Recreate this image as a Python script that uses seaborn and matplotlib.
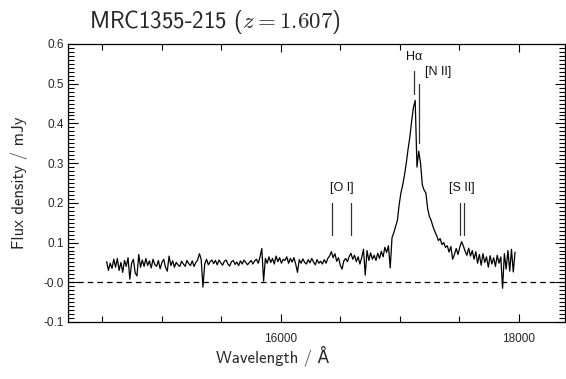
import numpy as np
import pandas as pd
import matplotlib
matplotlib.use("Agg")
import matplotlib.pyplot as plt
import seaborn as sns
from matplotlib.ticker import MultipleLocator

# ---------------- data ----------------
wave_start = 14535.0
wave_step = 15.0
flux = [
    # 14535 - 14820
    0.052, 0.030, 0.048, 0.035, 0.058, 0.038, 0.060, 0.030, 0.050, 0.025,
    0.055, 0.040, 0.062, 0.008, 0.048, 0.058, 0.024, 0.016, 0.070, 0.038,
    # 14835 - 15120
    0.056, 0.040, 0.060, 0.042, 0.054, 0.036, 0.058, 0.045, 0.040, 0.055,
    0.034, 0.050, 0.058, 0.038, 0.028, 0.066, 0.042, 0.054, 0.038, 0.050,
    # 15135 - 15420
    0.044, 0.040, 0.053, 0.046, 0.040, 0.055, 0.047, 0.042, 0.054, 0.040,
    0.050, 0.056, 0.072, 0.058, -0.012, 0.046, 0.058, 0.044, 0.052, 0.056,
    # 15435 - 15720
    0.047, 0.055, 0.044, 0.056, 0.049, 0.043, 0.053, 0.056, 0.046, 0.041,
    0.052, 0.055, 0.045, 0.051, 0.042, 0.054, 0.046, 0.056, 0.050, 0.044,
    # 15735 - 16020
    0.050, 0.055, 0.046, 0.054, 0.058, 0.048, 0.064, 0.085, 0.003, 0.060,
    0.048, 0.064, 0.050, 0.060, 0.046, 0.066, 0.052, 0.062, 0.048, 0.058,
    # 16035 - 16320
    0.055, 0.064, 0.048, 0.060, 0.051, 0.062, 0.046, 0.025, 0.057, 0.048,
    0.059, 0.050, 0.046, 0.057, 0.049, 0.060, 0.051, 0.044, 0.057, 0.048,
    # 16335 - 16620
    0.053, 0.046, 0.057, 0.048, 0.060, 0.066, 0.077, 0.062, 0.072, 0.053,
    0.062, 0.043, 0.033, 0.054, 0.060, 0.052, 0.065, 0.073, 0.058, 0.068,
    # 16635 - 16920
    0.052, 0.064, 0.046, 0.062, 0.083, 0.018, 0.080, 0.055, 0.074, 0.058,
    0.068, 0.055, 0.073, 0.060, 0.078, 0.064, 0.088, 0.075, 0.092, 0.036,
    # 16935 - 17220
    0.112, 0.125, 0.140, 0.155, 0.195, 0.225, 0.245, 0.270, 0.300, 0.335,
    0.365, 0.405, 0.440, 0.458, 0.290, 0.330, 0.300, 0.245, 0.232, 0.225,
    # 17235 - 17520
    0.185, 0.165, 0.155, 0.140, 0.128, 0.118, 0.105, 0.110, 0.095, 0.100,
    0.088, 0.092, 0.076, 0.090, 0.058, 0.070, 0.085, 0.070, 0.088, 0.102,
    # 17535 - 17820
    0.092, 0.078, 0.068, 0.086, 0.066, 0.080, 0.058, 0.077, 0.048, 0.070,
    0.043, 0.072, 0.050, 0.064, 0.038, 0.067, 0.046, 0.062, 0.040, 0.068,
    # 17835 - 17970
    0.048, 0.064, -0.015, 0.072, 0.033, 0.080, 0.028, 0.083, 0.026, 0.076,
]
wavelength = wave_start + wave_step * np.arange(len(flux))

line_names = ["H\u03b1", "[N II]", "[O I]", "[S II]"]
line_waves = [[17117], [17165], [16431, 16593], [17509, 17543]]
line_ybot = [0.474, 0.35, 0.12, 0.12]
line_ytop = [0.531, 0.50, 0.20, 0.20]
label_xy = [(17117, 0.553), (17320, 0.514), (16512, 0.222), (17526, 0.222)]

yticks = [-0.1, 0.0, 0.1, 0.2, 0.3, 0.4, 0.5, 0.6]
yticklabels = ["-0.1", "-0.0", "0.1", "0.2", "0.3", "0.4", "0.5", "0.6"]
xticks = [16000, 18000]
xticklabels = ["16000", "18000"]

title_text = r"MRC1355-215 ($z = \mathsf{1.607}$)"
xlabel_text = "Wavelength / \u00c5"
ylabel_text = "Flux density / mJy"

# ---------------- plot ----------------
sns.set_style("ticks")
plt.rcParams["mathtext.fontset"] = "cm"
plt.rcParams["font.family"] = ["Liberation Sans", "DejaVu Sans"]

fig = plt.figure(figsize=(5.66, 3.79), dpi=100)
ax = fig.add_axes([68 / 566, 1 - 322 / 379, (565 - 68) / 566, (322 - 44) / 379])

df = pd.DataFrame({"wavelength": wavelength, "flux": flux})
sns.lineplot(data=df, x="wavelength", y="flux", ax=ax, color="black",
             linewidth=0.9, estimator=None, sort=False)

ax.axhline(0.0, color="black", linewidth=0.9, linestyle=(0, (4.5, 3.2)))

for name, waves, yb, yt, (lx, ly) in zip(line_names, line_waves, line_ybot,
                                         line_ytop, label_xy):
    for w in waves:
        ax.plot([w, w], [yb, yt], color="#333333", linewidth=0.9)
    ax.text(lx, ly, name, ha="center", va="bottom", fontsize=9,
            family=["Liberation Sans", "DejaVu Sans"], color="#111111")

ax.set_xlim(14210, 18390)
ax.set_ylim(-0.1, 0.6)
ax.set_xticks(xticks)
ax.set_xticklabels(xticklabels)
ax.xaxis.set_minor_locator(MultipleLocator(500))
ax.set_yticks(yticks)
ax.set_yticklabels(yticklabels)
ax.yaxis.set_minor_locator(MultipleLocator(0.01))

ax.tick_params(which="both", direction="in", top=True, right=True,
               labelsize=8.5, width=0.8, color="black")
ax.tick_params(axis="x", which="major", length=6, pad=8)
ax.tick_params(axis="x", which="minor", length=4)
ax.tick_params(axis="y", which="major", length=7, pad=3)
ax.tick_params(axis="y", which="minor", length=4)
for sp in ax.spines.values():
    sp.set_linewidth(0.9)
    sp.set_color("black")
ax.set_xlabel("")
ax.set_ylabel("")

cm_font = ["cmss10", "DejaVu Sans"]
fig.text(89 / 566, 1 - 28 / 379, title_text, fontsize=16.5, family=cm_font,
         ha="left", va="baseline")
fig.text(273 / 566, 1 - 356 / 379, xlabel_text, fontsize=12, family=cm_font,
         ha="center", va="center")
fig.text(19 / 566, 1 - 183 / 379, ylabel_text, fontsize=12, family=cm_font,
         ha="center", va="center", rotation=90)

fig.savefig("out.png", dpi=100)
